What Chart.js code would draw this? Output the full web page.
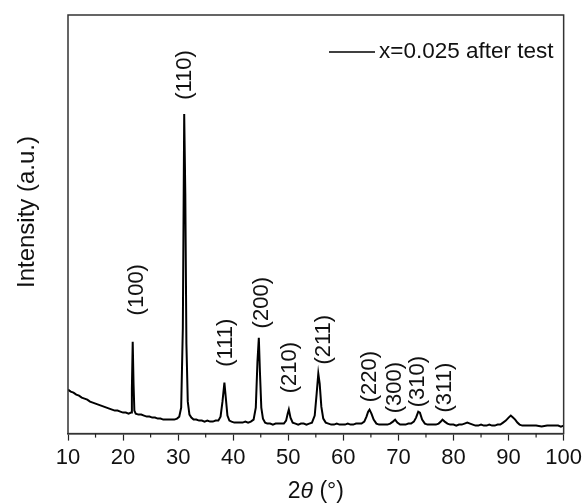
<!DOCTYPE html>
<html>
<head>
<meta charset="utf-8">
<script src="https://cdn.jsdelivr.net/npm/chart.js@4"></script>
<style>
    body { margin: 0; background: #fff; }
    #box { width: 586px; height: 504px; }
</style>
</head>
<body>
<div id="box"><canvas id="xrdChart" width="586" height="504"></canvas></div>
<script>
const seriesName = 'x=0.025 after test';

// each line of twoTheta matches the same line of intensity
const twoTheta = [
    10, 10.5, 11, 11.5, 12, 12.5, 13, 13.5, 14, 14.5,
    15, 15.5, 16, 16.5, 17, 17.5, 18, 18.5, 19, 19.5,
    20, 20.5, 21, 21.45, 21.6, 21.75, 21.9, 22.05, 22.3, 22.8,
    23.3, 23.8, 24.3, 24.8, 25.3, 25.8, 26.3, 26.8, 27.3, 27.8,
    28.3, 28.8, 29.3, 29.8, 30.2, 30.55, 30.85, 31.1, 31.3, 31.5,
    31.75, 32.05, 32.4, 32.8, 33.3, 33.8, 34.3, 34.8, 35.3, 35.8,
    36.3, 36.8, 37.3, 37.7, 38.05, 38.4, 38.65, 38.95, 39.3, 39.7,
    40.2, 40.7, 41.2, 41.7, 42.2, 42.7, 43.2, 43.7, 44.1, 44.4,
    44.65, 44.85, 45.1, 45.4, 45.8, 46.2, 46.7, 47.2, 47.7, 48.2,
    48.7, 49.2, 49.6, 49.9, 50.1, 50.4, 50.8, 51.3, 51.8, 52.3,
    52.8, 53.3, 53.8, 54.3, 54.8, 55.15, 55.45, 55.7, 56.0, 56.35,
    56.8, 57.3, 57.8, 58.3, 58.8, 59.3, 59.8, 60.3, 60.8, 61.3,
    61.8, 62.3, 62.8, 63.3, 63.8, 64.2, 64.5, 64.75, 65.1, 65.5,
    66.0, 66.5, 67.0, 67.5, 68.0, 68.5, 69.0, 69.4, 69.8, 70.3,
    70.8, 71.3, 71.8, 72.3, 72.8, 73.2, 73.6, 73.9, 74.3, 74.8,
    75.3, 75.8, 76.3, 76.8, 77.3, 77.7, 78.0, 78.4, 78.9, 79.4,
    80.0, 80.5, 81.0, 81.5, 82.0, 82.5, 83.0, 83.5, 84.0, 84.5,
    85.0, 85.5, 86.0, 86.5, 87.0, 87.5, 88.0, 88.5, 89.0, 89.5,
    90.0, 90.4, 90.8, 91.2, 91.6, 92.0, 92.5, 93.0, 93.5, 94.0,
    95.0, 96.0, 97.0, 98.0, 99.0, 99.5, 100
];

const intensity = [
    44, 42, 41, 39, 38, 36, 35, 34, 32, 31,
    30, 29, 28, 27, 26, 25, 24, 23, 23, 22,
    21, 21, 20, 21, 45, 92, 50, 23, 20, 19,
    19, 18, 17, 17, 16, 16, 15, 15, 14, 14,
    14, 14, 14, 15, 17, 26, 105, 320, 240, 90,
    32, 19, 16, 14, 14, 13, 13, 12, 13, 12,
    12, 13, 13, 17, 32, 51, 36, 18, 13, 12,
    11, 11, 11, 11, 12, 11, 12, 14, 26, 72,
    96, 62, 26, 15, 11, 10, 10, 9, 10, 10,
    10, 10, 13, 20, 24, 16, 11, 10, 9, 10,
    10, 9, 10, 11, 18, 40, 60, 50, 27, 15,
    11, 10, 9, 9, 10, 9, 9, 9, 10, 9,
    9, 10, 10, 10, 12, 17, 22, 24, 20, 14,
    10, 9, 9, 9, 9, 10, 12, 14, 11, 9,
    9, 9, 10, 10, 12, 16, 22, 21, 14, 10,
    9, 9, 9, 9, 10, 12, 14, 12, 10, 9,
    9, 8, 9, 9, 10, 11, 10, 9, 8, 8,
    9, 8, 8, 9, 8, 8, 9, 9, 11, 13,
    16, 18, 16, 14, 11, 9, 8, 8, 8, 8,
    8, 7, 8, 8, 8, 7, 8
];

const xTicks = [10, 20, 30, 40, 50, 60, 70, 80, 90, 100];
const xMinorTicks = [15, 25, 35, 45, 55, 65, 75, 85, 95];

// peak labels: text, 2theta of label centre, intensity level of label centre
const peakLabels = ['(100)', '(110)', '(111)', '(200)', '(210)', '(211)', '(220)', '(300)', '(310)', '(311)'];
const peakLabelX = [22.5, 31.2, 38.6, 45.2, 50.3, 56.4, 64.8, 69.3, 73.6, 78.5];
const peakLabelY = [144, 359, 91, 131, 66, 94, 57, 46, 52, 46];

const FONT = "'Liberation Sans', Arial, sans-serif";

const overlayPlugin = {
    id: 'overlay',
    afterDraw(chart) {
        const ctx = chart.ctx;
        const area = chart.chartArea;
        const xs = chart.scales.x;
        const ys = chart.scales.y;

        ctx.save();

        // frame
        ctx.strokeStyle = '#333';
        ctx.lineWidth = 1.5;
        ctx.strokeRect(area.left, area.top, area.right - area.left, area.bottom - area.top);

        // minor ticks
        ctx.strokeStyle = '#222';
        ctx.lineWidth = 1.2;
        for (const v of xMinorTicks) {
            const px = xs.getPixelForValue(v);
            ctx.beginPath();
            ctx.moveTo(px, area.bottom);
            ctx.lineTo(px, area.bottom + 4);
            ctx.stroke();
        }

        // peak labels
        ctx.fillStyle = '#111';
        ctx.font = '22px ' + FONT;
        ctx.textAlign = 'center';
        ctx.textBaseline = 'middle';
        for (let i = 0; i < peakLabels.length; i++) {
            const px = xs.getPixelForValue(peakLabelX[i]);
            const py = ys.getPixelForValue(peakLabelY[i]);
            ctx.save();
            ctx.translate(px, py);
            ctx.rotate(-Math.PI / 2);
            ctx.fillText(peakLabels[i], 0, 0);
            ctx.restore();
        }

        // y title
        ctx.save();
        ctx.font = '24px ' + FONT;
        ctx.translate(27, 212);
        ctx.rotate(-Math.PI / 2);
        ctx.fillText('Intensity (a.u.)', 0, 0);
        ctx.restore();

        // legend
        ctx.strokeStyle = '#000';
        ctx.lineWidth = 1.5;
        ctx.beginPath();
        ctx.moveTo(329, 52);
        ctx.lineTo(375, 52);
        ctx.stroke();
        ctx.font = '22.5px ' + FONT;
        ctx.textAlign = 'left';
        ctx.textBaseline = 'middle';
        ctx.fillText(seriesName, 379, 52);

        // x title with italic theta
        const parts = [
            { t: '2', f: '23px ' + FONT },
            { t: 'θ', f: 'italic 23px ' + FONT },
            { t: ' (°)', f: '23px ' + FONT }
        ];
        let total = 0;
        for (const p of parts) {
            ctx.font = p.f;
            p.w = ctx.measureText(p.t).width;
            total += p.w;
        }
        let cx = (area.left + area.right) / 2 - total / 2;
        ctx.textBaseline = 'middle';
        for (const p of parts) {
            ctx.font = p.f;
            ctx.fillText(p.t, cx, 492);
            cx += p.w;
        }

        ctx.restore();
    }
};

function main() {
    const ctx = document.getElementById('xrdChart').getContext('2d');
    const points = twoTheta.map((x, i) => ({ x: x, y: intensity[i] }));

    new Chart(ctx, {
        type: 'line',
        data: {
            datasets: [{
                label: seriesName,
                data: points,
                borderColor: '#000',
                borderWidth: 2,
                pointRadius: 0,
                fill: false,
                tension: 0
            }]
        },
        options: {
            responsive: false,
            animation: false,
            layout: {
                padding: { left: 68, right: 20, top: 15, bottom: 29 }
            },
            plugins: {
                legend: { display: false },
                tooltip: { enabled: false }
            },
            scales: {
                x: {
                    type: 'linear',
                    min: 10,
                    max: 100,
                    afterBuildTicks: function(scale) {
                        scale.ticks = xTicks.map(v => ({ value: v }));
                    },
                    ticks: {
                        color: '#111',
                        padding: 4,
                        maxRotation: 0,
                        font: { family: FONT, size: 22 }
                    },
                    grid: {
                        drawOnChartArea: false,
                        drawTicks: true,
                        tickLength: 7,
                        tickColor: '#222',
                        tickWidth: 1.2
                    },
                    border: { color: '#333', width: 1.5 }
                },
                y: {
                    display: false,
                    min: 0,
                    max: 419
                }
            }
        },
        plugins: [overlayPlugin]
    });
}

main();
</script>
</body>
</html>
